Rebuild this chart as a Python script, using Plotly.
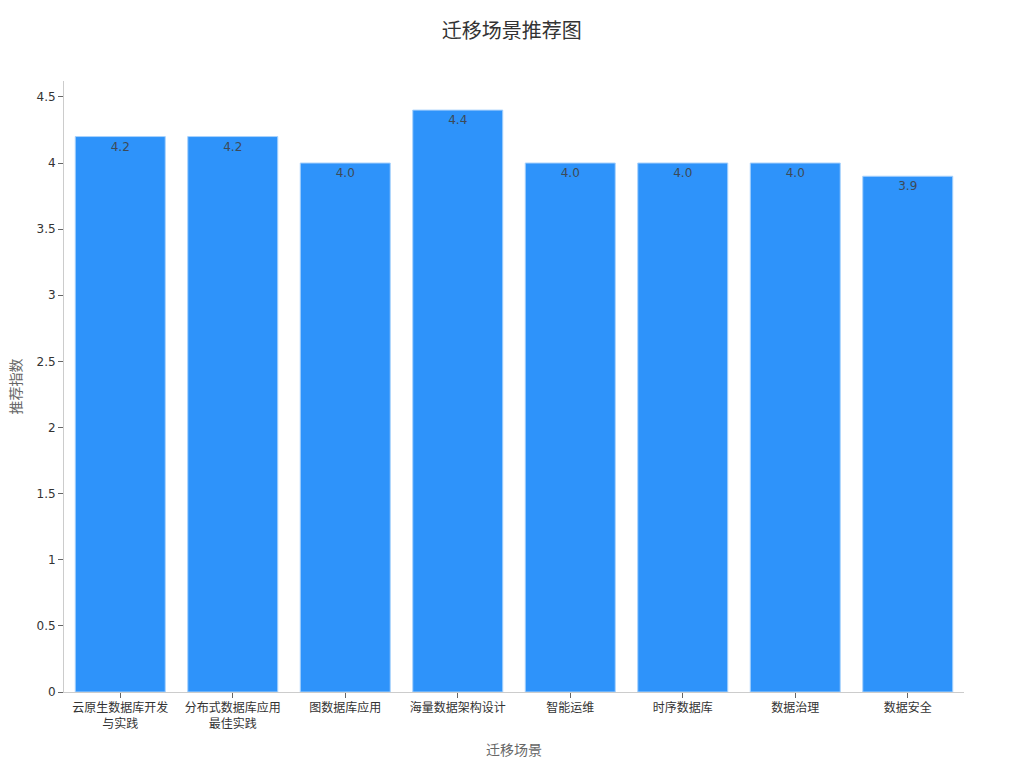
import plotly.graph_objects as go

categories = ["云原生数据库开发<br>与实践", "分布式数据库应用<br>最佳实践", "图数据库应用", "海量数据架构设计",
              "智能运维", "时序数据库", "数据治理", "数据安全"]
values = [4.2, 4.2, 4.0, 4.4, 4.0, 4.0, 4.0, 3.9]
labels = [f"{v:.1f}" for v in values]

font_family = "DejaVu Sans, Noto Sans CJK SC, sans-serif"

fig = go.Figure(go.Bar(
    x=categories, y=values, text=labels,
    textposition="inside", insidetextanchor="end", textangle=0,
    textfont=dict(color="#3d4a57", size=12),
    marker=dict(color="#2E93FA", line=dict(color="#A9D2FC", width=1)),
))

fig.update_layout(
    width=1024, height=768,
    margin=dict(l=56, r=68, t=73, b=84),
    paper_bgcolor="white", plot_bgcolor="white",
    font=dict(family=font_family, size=12, color="#333333"),
    title=dict(text="迁移场景推荐图", x=0.492, xanchor="center", y=0.979,
               font=dict(size=20, color="#333333")),
    bargap=0.2,
    showlegend=False,
)
fig.update_xaxes(
    title=dict(text="迁移场景", font=dict(size=14, color="#666666")),
    showline=True, linecolor="#cccccc", ticks="outside", tickcolor="#666666", ticklen=5,
    showgrid=False, automargin=False,
)
fig.update_yaxes(
    title=dict(text="推荐指数", font=dict(size=14, color="#666666")),
    range=[0, 4.62], dtick=0.5,
    showline=True, linecolor="#cccccc", ticks="outside", tickcolor="#666666", ticklen=5,
    showgrid=False, zeroline=False, automargin=False,
)

fig.write_html("out.html")
